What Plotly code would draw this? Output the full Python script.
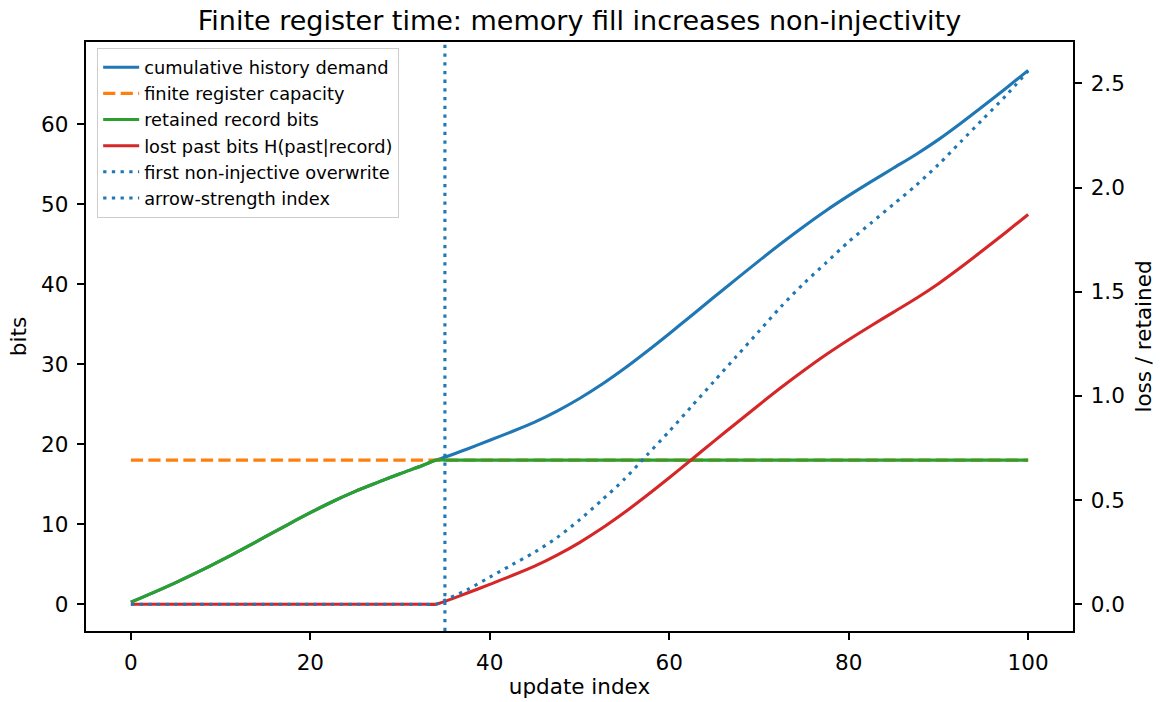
import plotly.graph_objects as go

# ---- data ----
update_index = [0, 2.5, 5, 7.5, 10, 12.5, 15, 17.5, 20, 22.5, 25, 27.5, 30, 32.5, 34,
                35, 37.5, 40, 42.5, 45, 47.5, 50, 52.5, 55, 57.5, 60, 62.5, 65, 67.5,
                70, 72.5, 75, 77.5, 80, 82.5, 85, 87.5, 90, 92.5, 95, 97.5, 100]
history_demand = [0.25, 1.45, 2.7, 4.03, 5.43, 6.9, 8.43, 9.95, 11.43, 12.83, 14.1, 15.22, 16.3, 17.33, 18.0,
                  18.35, 19.4, 20.48, 21.58, 22.75, 24.13, 25.7, 27.48, 29.45, 31.58, 33.8, 36.08, 38.38, 40.65,
                  42.9, 45.1, 47.2, 49.2, 51.05, 52.8, 54.5, 56.2, 58.05, 60.1, 62.25, 64.45, 66.7]
register_capacity = [18.0] * len(update_index)
retained_bits = [0.25, 1.45, 2.7, 4.03, 5.43, 6.9, 8.43, 9.95, 11.43, 12.83, 14.1, 15.22, 16.3, 17.33, 18.0,
                 18.0, 18.0, 18.0, 18.0, 18.0, 18.0, 18.0, 18.0, 18.0, 18.0, 18.0, 18.0, 18.0, 18.0,
                 18.0, 18.0, 18.0, 18.0, 18.0, 18.0, 18.0, 18.0, 18.0, 18.0, 18.0, 18.0, 18.0]
lost_bits = [0, 0, 0, 0, 0, 0, 0, 0, 0, 0, 0, 0, 0, 0, 0,
             0.35, 1.4, 2.48, 3.58, 4.75, 6.13, 7.7, 9.48, 11.45, 13.58, 15.8, 18.08, 20.38, 22.65,
             24.9, 27.1, 29.2, 31.2, 33.05, 34.8, 36.5, 38.2, 40.05, 42.1, 44.25, 46.45, 48.7]
arrow_strength = [0, 0, 0, 0, 0, 0, 0, 0, 0, 0, 0, 0, 0, 0, 0,
                  0.02, 0.07, 0.13, 0.19, 0.25, 0.32, 0.405, 0.50, 0.60, 0.715, 0.83, 0.95, 1.07, 1.19,
                  1.31, 1.43, 1.54, 1.64, 1.74, 1.83, 1.92, 2.01, 2.11, 2.22, 2.33, 2.44, 2.56]
first_overwrite = 35

# ---- styling ----
BLUE, ORANGE, GREEN, RED = "#1f77b4", "#ff7f0e", "#2ca02c", "#d62728"
LW = 3.1
FONT = "DejaVu Sans"
TICK = 21.5
LABEL = 21.5
y_range = [-3.35, 70.25]
y2_range = [-0.1285, 2.6985]
DOT = "3.3px,5.4px"
SM = dict(shape="spline", smoothing=0.8)

fig = go.Figure()
fig.add_trace(go.Scatter(x=update_index, y=history_demand, mode="lines",
                         line=dict(color=BLUE, width=LW, **SM),
                         name="cumulative history demand"))
fig.add_trace(go.Scatter(x=update_index, y=register_capacity, mode="lines",
                         line=dict(color=ORANGE, width=LW, dash="12.2px,5.3px"),
                         name="finite register capacity"))
fig.add_trace(go.Scatter(x=update_index, y=retained_bits, mode="lines",
                         line=dict(color=GREEN, width=LW, **SM),
                         name="retained record bits"))
fig.add_trace(go.Scatter(x=update_index, y=lost_bits, mode="lines",
                         line=dict(color=RED, width=LW, **SM),
                         name="lost past bits H(past|record)"))
fig.add_trace(go.Scatter(x=[first_overwrite, first_overwrite], y=y_range, mode="lines",
                         line=dict(color=BLUE, width=LW, dash=DOT),
                         name="first non-injective overwrite"))
fig.add_trace(go.Scatter(x=update_index, y=arrow_strength, mode="lines", yaxis="y2",
                         line=dict(color=BLUE, width=LW, dash=DOT, **SM),
                         name="arrow-strength index"))

axis_common = dict(showgrid=False, zeroline=False, showline=True, linecolor="black", linewidth=1.7,
                   ticks="outside", ticklen=7.5, tickwidth=1.7, tickcolor="black",
                   automargin=False, ticklabelstandoff=4,
                   tickfont=dict(family=FONT, size=TICK, color="black"))

fig.update_layout(
    width=1161, height=702,
    margin=dict(l=86, r=88, t=42, b=71),
    paper_bgcolor="white", plot_bgcolor="white",
    font=dict(family=FONT, color="black"),
    title=dict(text="Finite register time: memory fill increases non-injectivity",
               x=0.4991, xanchor="center", y=0.971, yanchor="middle",
               font=dict(family=FONT, size=27, color="black")),
    xaxis=dict(range=[-5, 105], tickvals=[0, 20, 40, 60, 80, 100], mirror=True,
               title=dict(text="update index", font=dict(family=FONT, size=LABEL), standoff=5),
               **axis_common),
    yaxis=dict(range=y_range, tickvals=[0, 10, 20, 30, 40, 50, 60], mirror=True,
               title=dict(text="bits", font=dict(family=FONT, size=LABEL), standoff=8),
               **axis_common),
    yaxis2=dict(range=y2_range, tickvals=[0, 0.5, 1.0, 1.5, 2.0, 2.5],
                ticktext=["0.0", "0.5", "1.0", "1.5", "2.0", "2.5"],
                overlaying="y", side="right", anchor="x",
                title=dict(text="loss / retained", font=dict(family=FONT, size=LABEL), standoff=12),
                **axis_common),
    legend=dict(x=0.011, y=0.99, xanchor="left", yanchor="top",
                bgcolor="rgba(255,255,255,0.8)", bordercolor="#cccccc", borderwidth=1.3,
                font=dict(family=FONT, size=17.8, color="black"),
                tracegroupgap=0, itemwidth=36),
    showlegend=True,
)

fig.write_html("out.html", config={"displayModeBar": False},
               post_script="document.body.style.margin='0px';")
